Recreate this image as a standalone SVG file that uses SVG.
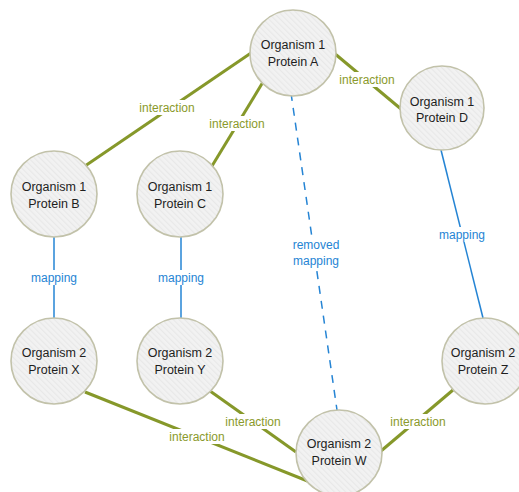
<svg xmlns="http://www.w3.org/2000/svg" width="519" height="492" viewBox="0 0 519 492">
<defs>
<pattern id="stripes" patternUnits="userSpaceOnUse" width="4" height="4" patternTransform="rotate(-45)">
<rect width="4" height="4" fill="#f2f2f2"/>
<rect width="1.2" height="4" fill="#e8e8e8"/>
</pattern>
</defs>
<style>
.node circle{fill:url(#stripes);stroke:#c2c2aa;stroke-width:1.6}
.node text{font-family:"Liberation Sans",Arial,sans-serif;font-size:12.5px;fill:#1e1e1e;text-anchor:middle}
.int{stroke:#86982a;stroke-width:3;fill:none}
.map{stroke:#2584d4;stroke-width:1.5;fill:none}
.dash{stroke-dasharray:8,7}
.lbl{font-family:"Liberation Sans",Arial,sans-serif;font-size:12px;text-anchor:middle}
.li{fill:#8a9a2c}
.lm{fill:#2584d4}
.bg{fill:#ffffff}
</style>
<rect width="519" height="492" fill="#ffffff"/>
<g id="connectors">
<line class="int" x1="251" y1="53" x2="85" y2="166"/>
<line class="int" x1="263" y1="82" x2="212" y2="166"/>
<line class="int" x1="334" y1="53" x2="401" y2="109"/>
<line class="map dash" x1="291" y1="93" x2="337" y2="410"/>
<line class="map" x1="54" y1="237" x2="54" y2="318"/>
<line class="map" x1="181" y1="237" x2="181" y2="318"/>
<line class="map" x1="441" y1="150" x2="483" y2="318"/>
<line class="int" x1="85" y1="392" x2="310" y2="482"/>
<line class="int" x1="210" y1="391" x2="296" y2="452"/>
<line class="int" x1="381" y1="451" x2="453" y2="390"/>
<rect class="bg" x="138" y="100" width="60" height="15"/>
<text class="lbl li" x="167" y="112">interaction</text>
<rect class="bg" x="207" y="116" width="60" height="15"/>
<text class="lbl li" x="237" y="128">interaction</text>
<rect class="bg" x="337" y="72" width="60" height="15"/>
<text class="lbl li" x="367" y="84">interaction</text>
<rect class="bg" x="288" y="237" width="54" height="31"/>
<text class="lbl lm" x="316" y="249">removed</text>
<text class="lbl lm" x="316" y="265">mapping</text>
<rect class="bg" x="30" y="270" width="48" height="15"/>
<text class="lbl lm" x="54" y="282">mapping</text>
<rect class="bg" x="157" y="270" width="48" height="15"/>
<text class="lbl lm" x="181" y="282">mapping</text>
<rect class="bg" x="438" y="227" width="48" height="15"/>
<text class="lbl lm" x="462" y="239">mapping</text>
<rect class="bg" x="167" y="429" width="60" height="15"/>
<text class="lbl li" x="197" y="441">interaction</text>
<rect class="bg" x="223" y="414" width="60" height="15"/>
<text class="lbl li" x="253" y="426">interaction</text>
<rect class="bg" x="388" y="414" width="60" height="15"/>
<text class="lbl li" x="418" y="426">interaction</text>
</g>
<g id="nodeA" class="node"><circle cx="293" cy="53" r="43"/><text x="293" y="49">Organism 1</text><text x="293" y="66">Protein A</text></g>
<g id="nodeB" class="node"><circle cx="54" cy="194" r="43"/><text x="54" y="191">Organism 1</text><text x="54" y="208">Protein B</text></g>
<g id="nodeC" class="node"><circle cx="180" cy="194" r="43"/><text x="180" y="191">Organism 1</text><text x="180" y="208">Protein C</text></g>
<g id="nodeD" class="node"><circle cx="442" cy="108" r="42"/><text x="442" y="106">Organism 1</text><text x="442" y="122">Protein D</text></g>
<g id="nodeX" class="node"><circle cx="54" cy="361" r="43"/><text x="54" y="357">Organism 2</text><text x="54" y="374">Protein X</text></g>
<g id="nodeY" class="node"><circle cx="180" cy="361" r="43"/><text x="180" y="357">Organism 2</text><text x="180" y="374">Protein Y</text></g>
<g id="nodeZ" class="node"><circle cx="485" cy="361" r="43"/><text x="483" y="357">Organism 2</text><text x="483" y="374">Protein Z</text></g>
<g id="nodeW" class="node"><circle cx="339" cy="453" r="43"/><text x="339" y="448">Organism 2</text><text x="339" y="465">Protein W</text></g>
</svg>
